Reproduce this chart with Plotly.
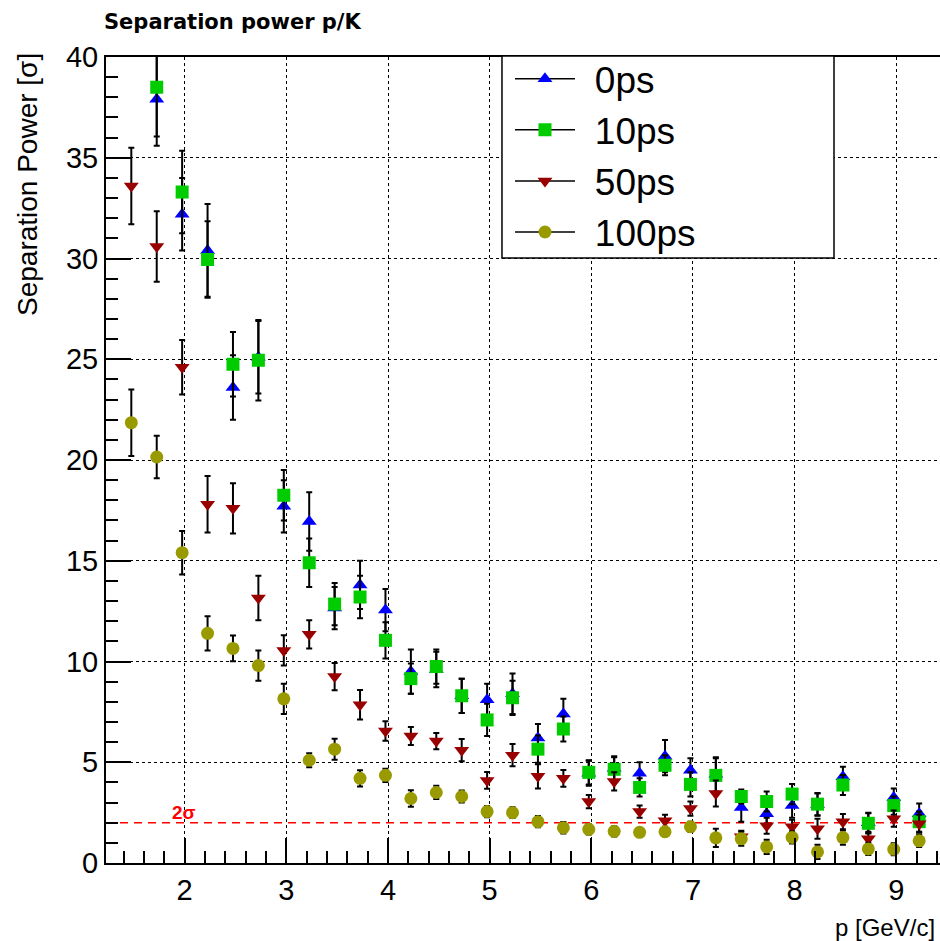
import plotly.graph_objects as go

# momentum bin centres [GeV/c]
p = [1.475, 1.725, 1.975, 2.225, 2.475, 2.725, 2.975, 3.225, 3.475, 3.725,
     3.975, 4.225, 4.475, 4.725, 4.975, 5.225, 5.475, 5.725, 5.975, 6.225,
     6.475, 6.725, 6.975, 7.225, 7.475, 7.725, 7.975, 8.225, 8.475, 8.725,
     8.975, 9.225]

# separation power and its uncertainty for each timing resolution
sep_0ps = [None, 37.9, 32.2, 30.4, 23.6, 25.1, 17.7, 16.95, 12.65, 13.8,
           12.55, 9.5, 9.6, 8.3, 8.1, 8.4, 6.2, 7.4, 4.45, 4.7,
           4.45, 5.3, 4.6, 4.4, 2.75, 2.45, 2.85, 2.9, 4.28, 2.0,
           3.25, 2.45]
err_0ps = [None, 2.3, 1.8, 2.3, 1.6, 1.8, 1.3, 1.45, 1.05, 1.2,
           1.05, 1.1, 0.88, 0.85, 0.8, 1.0, 0.7, 0.75, 0.62, 0.6,
           0.55, 0.8, 0.6, 0.85, 0.7, 0.6, 0.6, 0.55, 0.5, 0.5,
           0.45, 0.5]

sep_10ps = [None, 38.5, 33.3, 29.95, 24.75, 24.95, 18.25, 14.9, 12.85, 13.2,
            11.05, 9.15, 9.75, 8.3, 7.1, 8.2, 5.65, 6.65, 4.5, 4.65,
            3.75, 4.85, 3.9, 4.35, 3.3, 3.05, 3.42, 2.92, 3.87, 1.97,
            2.85, 2.05]
err_10ps = [None, 2.45, 2.05, 1.9, 1.6, 2.0, 1.25, 1.2, 1.05, 1.05,
            0.9, 0.75, 0.85, 0.85, 0.8, 0.85, 0.68, 0.62, 0.6, 0.6,
            0.45, 0.5, 0.6, 0.85, 0.35, 0.5, 0.5, 0.55, 0.5, 0.5,
            0.45, 0.5]

sep_50ps = [33.6, 30.6, 24.6, 17.8, 17.6, 13.15, 10.55, 11.35, 9.25, 7.85,
            6.55, 6.3, 6.05, 5.6, 4.1, 5.35, 4.3, 4.2, 3.05, 4.05,
            2.55, 2.1, 2.7, 3.45, 1.3, 1.85, 1.8, 1.7, 2.05, 1.2,
            2.2, 1.95]
err_50ps = [1.9, 1.75, 1.35, 1.4, 1.25, 1.1, 0.75, 0.7, 0.68, 0.73,
            0.48, 0.45, 0.4, 0.55, 0.42, 0.55, 0.6, 0.42, 0.33, 0.45,
            0.3, 0.3, 0.35, 0.65, 0.3, 0.4, 0.35, 0.5, 0.38, 0.35,
            0.4, 0.45]

sep_100ps = [21.85, 20.15, 15.4, 11.4, 10.65, 9.8, 8.15, 5.1, 5.65, 4.2,
             4.35, 3.2, 3.5, 3.3, 2.55, 2.5, 2.05, 1.75, 1.67, 1.57,
             1.52, 1.55, 1.8, 1.25, 1.2, 0.8, 1.27, 0.55, 1.26, 0.7,
             0.68, 1.1]
err_100ps = [1.65, 1.05, 1.08, 0.85, 0.64, 0.75, 0.75, 0.35, 0.52, 0.4,
             0.33, 0.41, 0.33, 0.3, 0.28, 0.27, 0.28, 0.29, 0.25, 0.25,
             0.2, 0.22, 0.25, 0.45, 0.35, 0.35, 0.3, 0.35, 0.35, 0.3,
             0.3, 0.3]

labels = ["0ps", "10ps", "50ps", "100ps"]
values = [sep_0ps, sep_10ps, sep_50ps, sep_100ps]
errors = [err_0ps, err_10ps, err_50ps, err_100ps]
symbols = ["triangle-up", "square", "triangle-down", "circle"]
colors = ["#0000ff", "#00cc00", "#990000", "#999900"]

threshold = 2.0
x_range = [1.226, 9.43]

FONT = "Liberation Sans, Arial, Helvetica, sans-serif"

fig = go.Figure()

for name, y, e, sym, col in zip(labels, values, errors, symbols, colors):
    fig.add_trace(go.Scatter(
        x=p, y=y, mode="markers", name=name, showlegend=False,
        marker=dict(symbol=sym, color=col, size=13, line=dict(width=0)),
        error_y=dict(type="data", array=e, visible=True, color="black",
                     thickness=2, width=3),
    ))

# legend entries: marker on a black line, label set off by thin spaces
for name, sym, col in zip(labels, symbols, colors):
    fig.add_trace(go.Scatter(
        x=[None], y=[None], mode="lines+markers",
        name="\u2009\u2009" + name,
        marker=dict(symbol=sym, color=col, size=13),
        line=dict(color="black", width=1.5),
    ))

# 2 sigma reference line
fig.add_shape(type="line", xref="x", yref="y", x0=x_range[0], x1=9.28,
              y0=threshold, y1=threshold, layer="between",
              line=dict(color="#ff0000", width=1.5, dash="8px,6px"))
fig.add_annotation(x=1.99, y=2.5, xref="x", yref="y", text="<b>2σ</b>",
                   showarrow=False, xanchor="center", yanchor="middle",
                   font=dict(family=FONT, size=19, color="#ff0000"))

# legend frame
fig.add_shape(type="rect", xref="paper", yref="paper",
              x0=0.4748, x1=0.8729, y0=0.7506, y1=1.0012, layer="above",
              fillcolor="white", line=dict(color="black", width=1.5))

axis_common = dict(
    showline=True, linecolor="black", linewidth=2,
    ticks="inside", ticklen=25, tickwidth=1.5, tickcolor="black",
    showgrid=True, gridcolor="black", gridwidth=1, griddash="dot",
    zeroline=False,
    tickfont=dict(family=FONT, size=29, color="black"),
)

fig.update_xaxes(range=x_range, dtick=1, tick0=0, mirror=True,
                 minor=dict(dtick=0.2, tick0=0, ticks="inside", ticklen=12,
                            tickwidth=1.5, tickcolor="black", showgrid=False),
                 **axis_common)
fig.update_yaxes(range=[0, 40], dtick=5, tick0=0,
                 minor=dict(dtick=1, tick0=0, ticks="inside", ticklen=12,
                            tickwidth=1.5, tickcolor="black", showgrid=False),
                 **axis_common)

fig.add_annotation(x=-0.0048, y=1.0434, xref="paper", yref="paper",
                   text="<b>Separation power p/K</b>", showarrow=False,
                   xanchor="left", yanchor="middle",
                   font=dict(family="DejaVu Sans, sans-serif", size=21,
                             color="black"))
fig.add_annotation(x=-0.0935, y=0.8412, xref="paper", yref="paper",
                   text="Separation Power [σ]", showarrow=False, textangle=-90,
                   xanchor="center", yanchor="middle",
                   font=dict(family=FONT, size=28, color="black"))
fig.add_annotation(x=0.9964, y=-0.0806, xref="paper", yref="paper",
                   text="p [GeV/c]", showarrow=False,
                   xanchor="right", yanchor="middle",
                   font=dict(family=FONT, size=24, color="black"))

fig.update_layout(
    width=940, height=941,
    margin=dict(l=106, r=0, t=57, b=78),
    plot_bgcolor="white", paper_bgcolor="white",
    font=dict(family=FONT, color="black"),
    legend=dict(x=0.4844, y=1.011, xanchor="left", yanchor="top",
                bgcolor="rgba(0,0,0,0)", borderwidth=0,
                font=dict(family=FONT, size=37, color="black"),
                itemwidth=60, tracegroupgap=0),
)

fig.write_html("out.html")
